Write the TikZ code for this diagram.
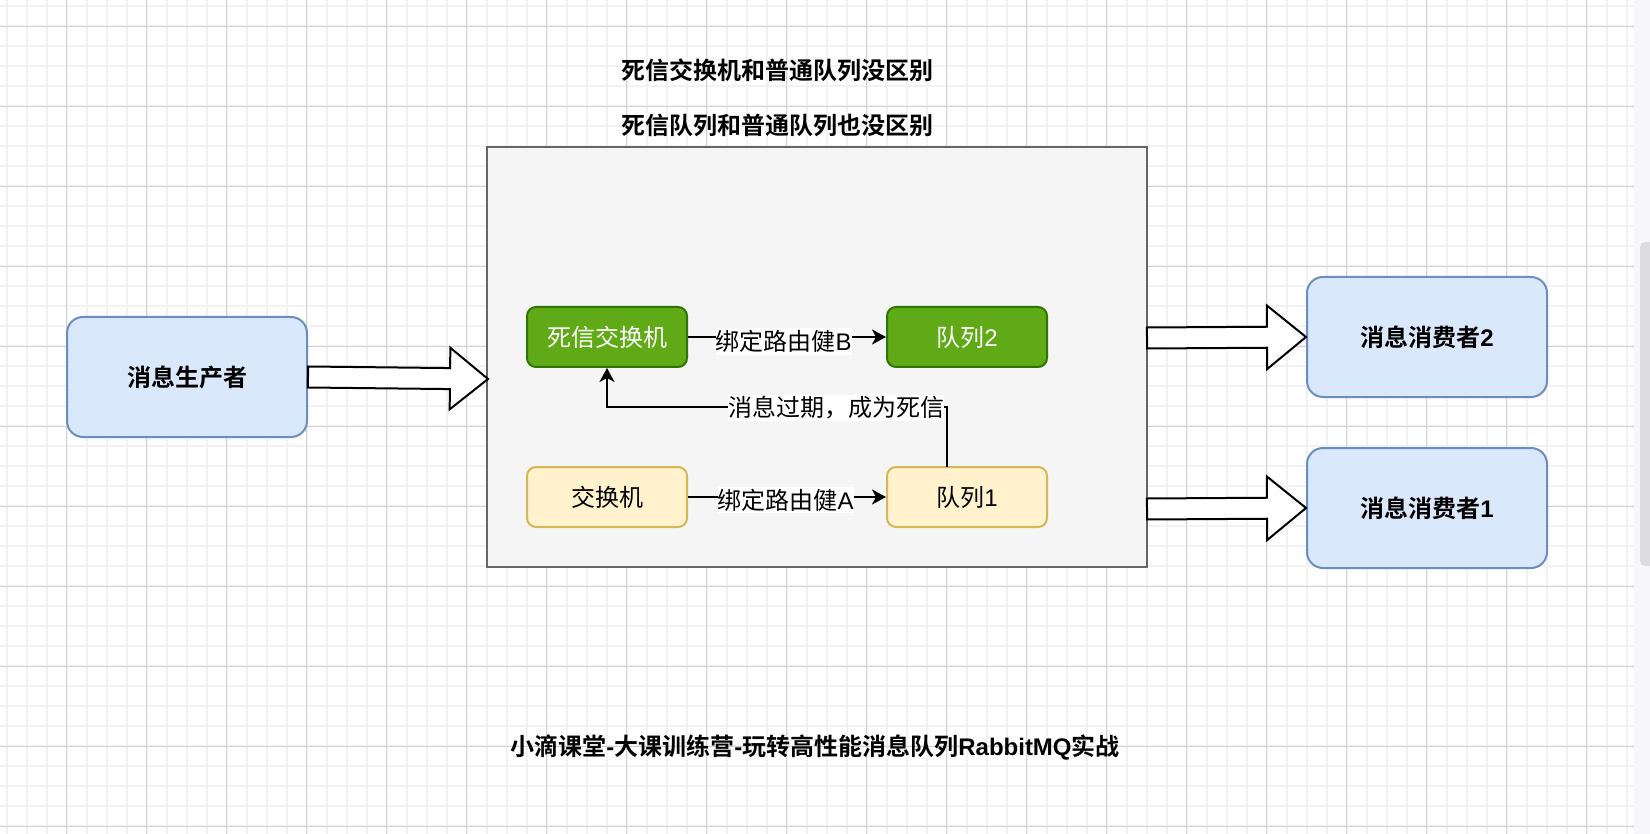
\documentclass[tikz,border=0pt]{standalone}
\usepackage{fontspec}
\setmainfont{Noto Sans CJK SC}[BoldFont={* Bold}]
\newfontfamily\hv{Liberation Sans}
\usetikzlibrary{calc,arrows.meta}
\definecolor{gmin}{HTML}{F2F2F2}
\definecolor{gmaj}{HTML}{D3D3D3}
\definecolor{ctfill}{HTML}{F5F5F5}
\definecolor{ctline}{HTML}{666666}
\definecolor{grfill}{HTML}{60A917}
\definecolor{grline}{HTML}{2D7600}
\definecolor{yefill}{HTML}{FFF2CC}
\definecolor{yeline}{HTML}{D6B656}
\definecolor{blfill}{HTML}{DAE8FC}
\definecolor{blline}{HTML}{6C8EBF}
\definecolor{sbtrack}{HTML}{F7F7F9}
\definecolor{sbthumb}{HTML}{DDDDE0}
\newcommand{\flexarr}[5]{%
  \coordinate (fh) at ($(#2)!#5!(#1)$);
  \draw[flexstyle] ($(#1)!#3!90:(#2)$) -- ($(fh)!#3!-90:(#1)$) -- ($(fh)!#4!-90:(#1)$) -- (#2)
    -- ($(fh)!#4!90:(#1)$) -- ($(fh)!#3!90:(#1)$) -- ($(#1)!#3!-90:(#2)$) -- cycle;}
\tikzset{
  txt/.style={font=\fontsize{12pt}{14pt}\selectfont},
  boxbase/.style={txt, draw, line width=1pt, inner sep=0pt, align=center},
  smallbox/.style={boxbase, rounded corners=4.5pt, minimum width=80pt, minimum height=30pt},
  bigbox/.style={boxbase, rounded corners=8pt, minimum width=120pt, minimum height=60pt,
    fill=blfill, draw=blline, font=\fontsize{12pt}{14pt}\selectfont\bfseries},
  greenbox/.style={smallbox, fill=grfill, draw=grline, text=white},
  yellowbox/.style={smallbox, fill=yefill, draw=yeline},
  edge/.style={line width=1pt, -{Stealth[length=7pt,width=7.5pt,inset=2pt]}},
  lbl/.style={txt, fill=white, inner xsep=0pt, inner ysep=1pt},
  title/.style={font=\fontsize{12pt}{14pt}\selectfont\bfseries, inner sep=0pt},
  flexstyle/.style={draw=black, fill=white, line width=1pt, line join=miter},
}
\begin{document}
\begin{tikzpicture}[x=0.5pt, y=-0.5pt]
\useasboundingbox (0,0) rectangle (1650,834);
\clip (0,0) rectangle (1650,834);
\fill[white] (0,0) rectangle (1634,834);
% grid
\foreach \gx in {0,...,81} {\draw[gmin, line width=1pt] ({6.7+20*\gx},0) -- ({6.7+20*\gx},834);}
\foreach \gy in {0,...,41} {\draw[gmin, line width=1pt] (0,{6.3+20*\gy}) -- (1634,{6.3+20*\gy});}
\foreach \gx in {0,...,19} {\draw[gmaj, line width=0.5pt] ({66.7+80*\gx},0) -- ({66.7+80*\gx},834);}
\foreach \gy in {0,...,10} {\draw[gmaj, line width=0.5pt] (0,{26.3+80*\gy}) -- (1634,{26.3+80*\gy});}
% scrollbar
\fill[sbtrack] (1634,0) rectangle (1650,834);
\fill[sbthumb, rounded corners=2.5pt] (1640,242) rectangle (1660,566);
% titles
\node[title] (t1) at (777,70) {死信交换机和普通队列没区别};
\node[title] (t2) at (777,125.5) {死信队列和普通队列也没区别};
\node[title] (t3) at (815,747.5) {小滴课堂{\hv -}大课训练营{\hv -}玩转高性能消息队列{\hv RabbitMQ}实战};
% container
\node[draw=ctline, fill=ctfill, line width=1pt, minimum width=330pt, minimum height=210pt, inner sep=0pt] (ct) at (817,357) {};
% inner boxes
\node[greenbox] (dlx) at (607,337) {死信交换机};
\node[greenbox] (q2) at (967,337) {队列{\hv 2}};
\node[yellowbox] (ex) at (607,497) {交换机};
\node[yellowbox] (q1) at (967,497) {队列{\hv 1}};
% producer / consumers
\node[bigbox] (prod) at (187,377) {消息生产者};
\node[bigbox] (c2) at (1427,337) {消息消费者{\hv 2}};
\node[bigbox] (c1) at (1427,508) {消息消费者{\hv 1}};
% edges
\draw[edge] (dlx) -- node[lbl, xshift=-1.75pt, yshift=-2.25pt] {绑定路由健{\hv B}} (q2);
\draw[edge] (ex) -- node[lbl, xshift=-0.75pt, yshift=-1.5pt] {绑定路由健{\hv A}} (q1);
\coordinate (q1top) at (947,467);
\coordinate (bend) at (947,407);
\draw[edge] (q1top) -- (bend) -| node[lbl, pos=0.163, yshift=-0.5pt] {消息过期，成为死信} (dlx.south);
% flex arrows
\coordinate (pin) at (488,379);
\coordinate (o2) at (1147,338);
\coordinate (o1) at (1147,509);
\flexarr{prod.east}{pin}{5.25pt}{15.4pt}{19pt}
\flexarr{o2}{c2.west}{5.25pt}{15.9pt}{19.5pt}
\flexarr{o1}{c1.west}{5.25pt}{15.9pt}{19.5pt}
\end{tikzpicture}
\end{document}
